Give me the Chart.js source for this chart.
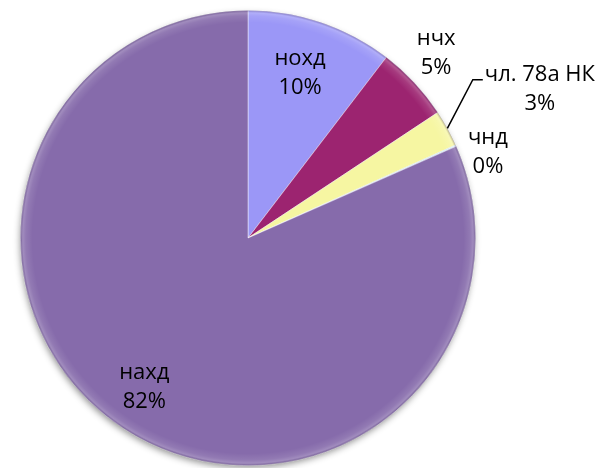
<!DOCTYPE html>
<html>
<head>
<meta charset="utf-8">
<script src="https://cdn.jsdelivr.net/npm/chart.js@4"></script>
<style>
  html, body { margin: 0; padding: 0; background: #fff; }
  #wrap { width: 603px; height: 468px; }
</style>
</head>
<body>
<div id="wrap"><canvas id="pieChart" width="603" height="468"></canvas></div>
<script>
// данные
const categories = ['нохд', 'нчх', 'чл. 78а НК', 'чнд', 'нахд'];
const shares = [10.4, 5.3, 2.6, 0.1, 81.6];

const sliceColors = ['#9b97f7', '#9c2470', '#f6f6a2', '#cfeef6', '#866bab'];
// где ставить подпись: доля радиуса и сдвиг угла (град.)
const labelPlace = [[0.76, -1.2], [1.16, -1.5], [1.44, 1.8], [1.12, 4.3], [0.80, 1.6]];

const FONT = '22px "Open Sans", "Noto Sans", sans-serif';
const LINE_H = 29;

// тень и фаска под/над кругом
const bevelPlugin = {
    id: 'bevel',
    beforeDatasetsDraw(chart) {
        const arc = chart.getDatasetMeta(0).data[0];
        if (!arc) return;
        const p = arc.getProps(['x', 'y', 'outerRadius'], true);
        const ctx = chart.ctx;
        ctx.save();
        ctx.shadowColor = 'rgba(0,0,0,0.45)';
        ctx.shadowBlur = 7;
        ctx.shadowOffsetX = -1;
        ctx.shadowOffsetY = 3;
        ctx.beginPath();
        ctx.arc(p.x, p.y, p.outerRadius - 1, 0, Math.PI * 2);
        ctx.fillStyle = '#866bab';
        ctx.fill();
        ctx.restore();
    },
    afterDatasetsDraw(chart) {
        const arc = chart.getDatasetMeta(0).data[0];
        if (!arc) return;
        const p = arc.getProps(['x', 'y', 'outerRadius'], true);
        const ctx = chart.ctx;
        const r = p.outerRadius;
        const g = ctx.createRadialGradient(p.x, p.y, r - 12, p.x, p.y, r);
        g.addColorStop(0, 'rgba(255,255,255,0)');
        g.addColorStop(0.55, 'rgba(255,255,255,0.10)');
        g.addColorStop(0.8, 'rgba(255,255,255,0.22)');
        g.addColorStop(1, 'rgba(60,40,90,0.35)');
        ctx.save();
        ctx.beginPath();
        ctx.arc(p.x, p.y, r, 0, Math.PI * 2);
        ctx.arc(p.x, p.y, r - 12, 0, Math.PI * 2, true);
        ctx.fillStyle = g;
        ctx.fill();
        ctx.restore();
    }
};

// подписи: категория и процент
const labelPlugin = {
    id: 'sliceLabels',
    afterDraw(chart) {
        const ctx = chart.ctx;
        const meta = chart.getDatasetMeta(0);
        const total = shares.reduce((a, b) => a + b, 0);
        ctx.save();
        ctx.font = FONT;
        ctx.fillStyle = '#000';
        ctx.textAlign = 'center';
        ctx.textBaseline = 'middle';
        meta.data.forEach((el, i) => {
            const p = el.getProps(['x', 'y', 'startAngle', 'endAngle', 'outerRadius'], true);
            const mid = (p.startAngle + p.endAngle) / 2;
            const a = mid + labelPlace[i][1] * Math.PI / 180;
            const d = p.outerRadius * labelPlace[i][0];
            const cx = p.x + Math.cos(a) * d;
            const cy = p.y + Math.sin(a) * d;
            const pct = Math.round(shares[i] / total * 100) + '%';
            ctx.fillText(categories[i], cx, cy - LINE_H / 2);
            ctx.fillText(pct, cx, cy + LINE_H / 2);

            if (i === 2) {
                // выноска
                const w = ctx.measureText(categories[i]).width;
                const left = cx - w / 2;
                const sx = p.x + Math.cos(mid) * p.outerRadius;
                const sy = p.y + Math.sin(mid) * p.outerRadius;
                const ly = cy - LINE_H / 2 + 5;
                ctx.beginPath();
                ctx.moveTo(sx, sy);
                ctx.lineTo(left - 12, ly);
                ctx.lineTo(left - 2, ly);
                ctx.strokeStyle = '#000';
                ctx.lineWidth = 1.5;
                ctx.stroke();
            }
        });
        ctx.restore();
    }
};

const ctxPie = document.getElementById('pieChart').getContext('2d');

const pieChart = new Chart(ctxPie, {
    type: 'pie',
    data: {
        labels: categories,
        datasets: [{
            data: shares,
            backgroundColor: sliceColors,
            borderColor: 'rgba(255,255,255,0.45)',
            borderWidth: 1
        }]
    },
    options: {
        responsive: false,
        animation: false,
        layout: {
            padding: { left: 20, right: 127, top: 10, bottom: 2 }
        },
        plugins: {
            legend: { display: false },
            tooltip: { enabled: false }
        }
    },
    plugins: [bevelPlugin, labelPlugin]
});
</script>
</body>
</html>
